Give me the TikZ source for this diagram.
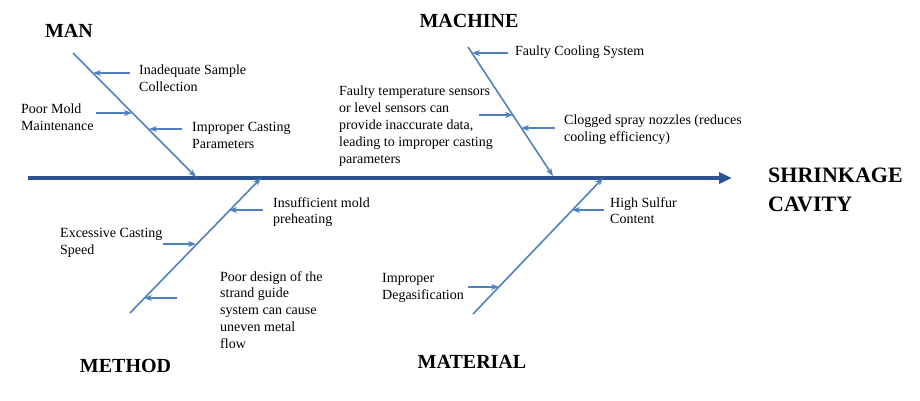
\documentclass[tikz,border=0pt]{standalone}
\usepackage{fontspec}
\setmainfont{Liberation Serif}
\usetikzlibrary{arrows.meta}
\definecolor{spinecol}{HTML}{2F5290}
\definecolor{bonecol}{HTML}{4F81BD}
\tikzset{
  causetext/.style={font=\fontsize{14}{16.8}\selectfont, align=left, anchor=north west, inner sep=0pt},
  cattext/.style={font=\fontsize{20}{24}\selectfont\bfseries, anchor=base, inner sep=0pt},
  spineline/.style={draw=spinecol, line width=3.6pt, -{Triangle[length=13pt,width=11pt]}},
  boneline/.style={draw=bonecol, line width=1.6pt, -{Stealth[length=8pt,width=6pt]}},
  subarrow/.style={draw=bonecol, line width=1.6pt, -{Stealth[length=8pt,width=6pt]}}
}
\begin{document}
\begin{tikzpicture}[x=1pt,y=-1pt]
\useasboundingbox (0,0) rectangle (920,400);
% spine
\coordinate (s0) at (28,178);
\coordinate (s1) at (732,178);
\draw[spineline] (s0) -- (s1);
% effect
\node[font=\fontsize{22}{28.5}\selectfont\bfseries, align=left, anchor=base west, inner sep=0pt] (effect) at (768,211) {SHRINKAGE\\CAVITY};
% category labels
\node[cattext] (man) at (69,37) {MAN};
\node[cattext] (machine) at (469,27) {MACHINE};
\node[cattext] (method) at (125.5,372) {METHOD};
\node[cattext] (material) at (472,368) {MATERIAL};
% bones
\coordinate (manT) at (73,53);  \coordinate (manE) at (196,177);
\coordinate (macT) at (468,47); \coordinate (macE) at (553,176);
\coordinate (metB) at (130,313); \coordinate (metE) at (261,178);
\coordinate (matB) at (473,314); \coordinate (matE) at (603,178);
\draw[boneline] (manT) -- (manE);
\draw[boneline] (macT) -- (macE);
\draw[boneline] (metB) -- (metE);
\draw[boneline] (matB) -- (matE);
% MAN causes
\node[causetext] (c1) at (139,65) {Inadequate Sample\\Collection};
\node[causetext] (c2) at (21,104) {Poor Mold\\Maintenance};
\node[causetext] (c3) at (192,122) {Improper Casting\\Parameters};
\coordinate (a1s) at (130,73);  \coordinate (a1e) at (93,73);
\coordinate (a2s) at (96,113);  \coordinate (a2e) at (132,113);
\coordinate (a3s) at (182,129); \coordinate (a3e) at (149,129);
\draw[subarrow] (a1s) -- (a1e);
\draw[subarrow] (a2s) -- (a2e);
\draw[subarrow] (a3s) -- (a3e);
% MACHINE causes
\node[causetext] (c4) at (515,46) {Faulty Cooling System};
\node[causetext] (c5) at (339,86) {Faulty temperature sensors\\or level sensors can\\provide inaccurate data,\\leading to improper casting\\parameters};
\node[causetext] (c6) at (564,115) {Clogged spray nozzles (reduces\\cooling efficiency)};
\coordinate (a4s) at (508,53);  \coordinate (a4e) at (472,53);
\coordinate (a5s) at (479,115); \coordinate (a5e) at (513,115);
\coordinate (a6s) at (555,128); \coordinate (a6e) at (521,128);
\draw[subarrow] (a4s) -- (a4e);
\draw[subarrow] (a5s) -- (a5e);
\draw[subarrow] (a6s) -- (a6e);
% METHOD causes
\node[causetext] (c7) at (273,197) {Insufficient mold\\preheating};
\node[causetext] (c8) at (60,228) {Excessive Casting\\Speed};
\node[causetext] (c9) at (220,271) {Poor design of the\\strand guide\\system can cause\\uneven metal\\flow};
\coordinate (a7s) at (263,210); \coordinate (a7e) at (229,210);
\coordinate (a8s) at (163,244); \coordinate (a8e) at (196,244);
\coordinate (a9s) at (177,298); \coordinate (a9e) at (144,298);
\draw[subarrow] (a7s) -- (a7e);
\draw[subarrow] (a8s) -- (a8e);
\draw[subarrow] (a9s) -- (a9e);
% MATERIAL causes
\node[causetext] (c10) at (610,197) {High Sulfur\\Content};
\node[causetext] (c11) at (382,273) {Improper\\Degasification};
\coordinate (a10s) at (604,210); \coordinate (a10e) at (572,210);
\coordinate (a11s) at (468,287); \coordinate (a11e) at (499,287);
\draw[subarrow] (a10s) -- (a10e);
\draw[subarrow] (a11s) -- (a11e);
\end{tikzpicture}
\end{document}
